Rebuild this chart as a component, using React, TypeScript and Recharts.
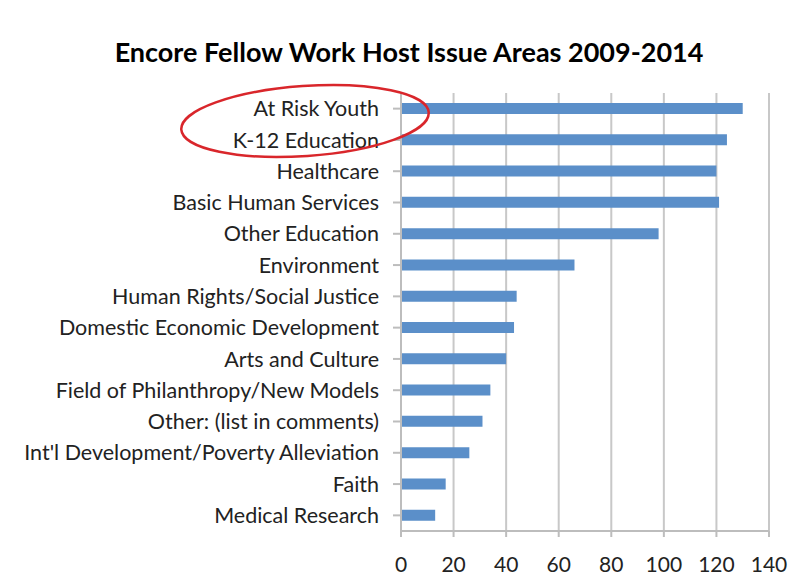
import React from "react";
import { BarChart, Bar, XAxis, YAxis, CartesianGrid } from "recharts";

const categories = [
  "At Risk Youth",
  "K-12 Education",
  "Healthcare",
  "Basic Human Services",
  "Other Education",
  "Environment",
  "Human Rights/Social Justice",
  "Domestic Economic Development",
  "Arts and Culture",
  "Field of Philanthropy/New Models",
  "Other: (list in comments)",
  "Int'l Development/Poverty Alleviation",
  "Faith",
  "Medical Research",
];
const hosts = [130, 124, 120, 121, 98, 66, 44, 43, 40, 34, 31, 26, 17, 13];
const xTicks = [0, 20, 40, 60, 80, 100, 120, 140];
const title = "Encore Fellow Work Host Issue Areas 2009-2014";

const data = categories.map((c, i) => ({ name: c, value: hosts[i] }));

const FONT = "Lato, 'Open Sans', sans-serif";

export default function App() {
  return (
    <div style={{ position: "absolute", left: 0, top: 0, width: 800, height: 588, background: "#fff" }}>
      <div
        style={{
          position: "absolute",
          left: 0,
          top: 36,
          width: 818,
          textAlign: "center",
          fontFamily: FONT,
          fontWeight: 700,
          fontSize: 27,
          color: "#000",
          lineHeight: "32px",
        }}
      >
        {title}
      </div>
      <BarChart
        width={800}
        height={588}
        data={data}
        layout="vertical"
        margin={{ top: 93, right: 31, bottom: 7, left: 0 }}
        barSize={11}
      >
        <CartesianGrid horizontal={false} vertical={true} stroke="#c8c8c8" strokeWidth={2} />
        <XAxis
          type="number"
          domain={[0, 140]}
          ticks={xTicks}
          interval={0}
          height={50}
          axisLine={{ stroke: "#bdbdbd", strokeWidth: 2 }}
          tickLine={{ stroke: "#bdbdbd", strokeWidth: 2 }}
          tickSize={6}
          tickMargin={20}
          tick={{ fill: "#222", fontSize: 21, fontFamily: FONT }}
        />
        <YAxis
          type="category"
          dataKey="name"
          width={401}
          interval={0}
          axisLine={{ stroke: "#bdbdbd", strokeWidth: 2 }}
          tickLine={{ stroke: "#bdbdbd", strokeWidth: 2 }}
          tickSize={8}
          tickMargin={14}
          tick={{ fill: "#222", fontSize: 21.5, fontFamily: FONT }}
        />
        <Bar dataKey="value" fill="#5B8FC9" isAnimationActive={false} />
      </BarChart>
      <svg
        width={800}
        height={588}
        style={{ position: "absolute", left: 0, top: 0, pointerEvents: "none" }}
      >
        <ellipse
          cx={305}
          cy={121}
          rx={124}
          ry={35}
          fill="none"
          stroke="#d9262b"
          strokeWidth={2.5}
          transform="rotate(-4 305 121)"
        />
      </svg>
    </div>
  );
}
